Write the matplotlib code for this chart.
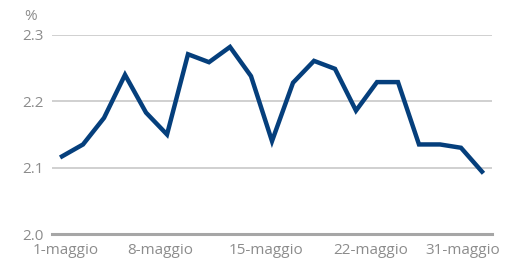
import numpy as np
import matplotlib as mpl

mpl.use('agg')

import matplotlib.pyplot as plt

# rendimento giornaliero, maggio
valori = [2.117, 2.135, 2.175, 2.240, 2.183, 2.150, 2.271, 2.259, 2.282, 2.238,
          2.140, 2.228, 2.261, 2.249, 2.186, 2.229, 2.229, 2.135, 2.135, 2.130,
          2.094]
etichette = ['1-maggio', '8-maggio', '15-maggio', '22-maggio', '31-maggio']
yticks = [2.0, 2.1, 2.2, 2.3]

grigio = '#8c8c8c'
blu = '#053f7c'

plt.rcParams['font.family'] = ['Open Sans', 'DejaVu Sans']

fig = plt.figure(figsize=(5.06, 2.60), dpi=100)
ax = fig.add_axes([0.1028, 0.1, 0.8695, 0.7654])

x = np.arange(len(valori))
ax.plot(x, valori, color=blu, linewidth=3.2, solid_joinstyle='miter')

ax.set_xlim(-0.476, len(valori) - 1 + 0.476)
ax.set_ylim(2.0, 2.3)

ax.set_yticks(yticks)
ax.set_yticklabels(['%.1f' % v for v in yticks])
ax.set_xticks([0.2, 4.7, 9.7, 14.7, 19.1])
ax.set_xticklabels(etichette)

ax.grid(axis='y', color='#c4c4c4', linewidth=1.1)
ax.set_axisbelow(True)
for s in ['top', 'right', 'left']:
    ax.spines[s].set_visible(False)
ax.spines['bottom'].set_color('#a6a6a6')
ax.spines['bottom'].set_linewidth(2.2)

ax.tick_params(length=0, labelsize=11, colors=grigio)
ax.tick_params(axis='y', pad=6)
ax.tick_params(axis='x', pad=6.5)

fig.text(24 / 506, 1 - 16 / 260, '%', color=grigio, fontsize=11, va='center')

fig.savefig('out.png')
